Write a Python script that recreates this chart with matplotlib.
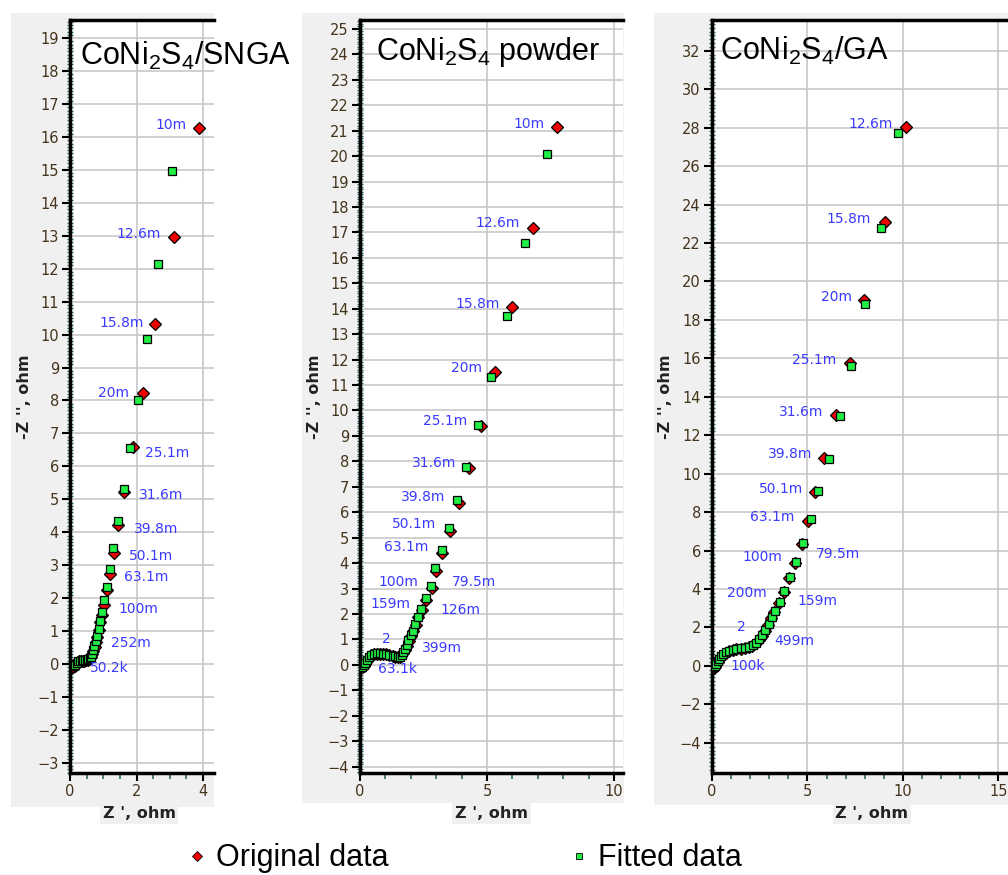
import matplotlib
matplotlib.use("Agg")
import matplotlib.pyplot as plt
from matplotlib.patches import Rectangle
from matplotlib.ticker import MultipleLocator
from matplotlib.lines import Line2D

plt.rcParams['font.family'] = ['DejaVu Sans']
plt.rcParams['mathtext.default'] = 'regular'

# ---- data (Z' , -Z'' in ohm) ----
# CoNi2S4/SNGA
orig1_x = [0.03, 0.06, 0.10, 0.14, 0.18, 0.23, 0.28, 0.33, 0.38, 0.43,
           0.48, 0.53, 0.58, 0.62, 0.66, 0.70, 0.74, 0.78, 0.82, 0.86,
           0.90, 0.95, 1.01, 1.10, 1.20, 1.32, 1.45, 1.63, 1.88, 2.21,
           2.57, 3.13, 3.89]
orig1_y = [-0.03, -0.08, -0.10, -0.06, 0.02, 0.07, 0.09, 0.10, 0.10, 0.10,
           0.11, 0.13, 0.16, 0.20, 0.29, 0.40, 0.52, 0.66, 0.82, 1.02,
           1.26, 1.50, 1.80, 2.24, 2.74, 3.38, 4.22, 5.23, 6.60, 8.23,
           10.32, 12.97, 16.27]
fit1_x = [0.03, 0.07, 0.11, 0.15, 0.20, 0.25, 0.30, 0.35, 0.40, 0.45,
          0.50, 0.55, 0.59, 0.62, 0.66, 0.70, 0.73, 0.77, 0.82, 0.86,
          0.91, 0.96, 1.01, 1.10, 1.19, 1.30, 1.43, 1.62, 1.81, 2.03,
          2.32, 2.66, 3.07]
fit1_y = [-0.02, -0.06, -0.07, -0.03, 0.04, 0.08, 0.10, 0.11, 0.11, 0.12,
          0.13, 0.15, 0.18, 0.21, 0.31, 0.43, 0.55, 0.70, 0.86, 1.06,
          1.30, 1.59, 1.93, 2.35, 2.87, 3.53, 4.34, 5.31, 6.55, 8.02,
          9.86, 12.13, 14.96]
lab1_text = ["10m", "12.6m", "15.8m", "20m", "25.1m", "31.6m", "39.8m",
             "50.1m", "63.1m", "100m", "252m", "50.2k"]
lab1_x = [2.56, 1.41, 0.90, 0.85, 2.26, 2.06, 1.91, 1.76, 1.61, 1.46, 1.23, 0.60]
lab1_y = [16.36, 13.05, 10.36, 8.23, 6.39, 5.13, 4.10, 3.28, 2.63, 1.67, 0.65, -0.13]

# CoNi2S4 powder
orig2_x = [0.03, 0.08, 0.14, 0.20, 0.27, 0.35, 0.44, 0.54, 0.65, 0.77,
           0.90, 1.03, 1.16, 1.28, 1.39, 1.48, 1.56, 1.63, 1.69, 1.76,
           1.83, 1.91, 2.00, 2.10, 2.19, 2.30, 2.43, 2.61, 2.82, 2.98,
           3.24, 3.54, 3.91, 4.30, 4.76, 5.33, 6.00, 6.80, 7.77]
orig2_y = [-0.05, -0.10, -0.05, 0.05, 0.17, 0.28, 0.37, 0.42, 0.44, 0.44,
           0.43, 0.41, 0.38, 0.35, 0.32, 0.30, 0.30, 0.36, 0.45, 0.58,
           0.76, 0.95, 1.15, 1.34, 1.58, 1.87, 2.15, 2.56, 3.04, 3.69,
           4.40, 5.28, 6.38, 7.74, 9.41, 11.50, 14.07, 17.18, 21.15]
fit2_x = [0.03, 0.08, 0.14, 0.20, 0.27, 0.35, 0.44, 0.54, 0.65, 0.77,
          0.90, 1.03, 1.16, 1.28, 1.39, 1.48, 1.57, 1.64, 1.70, 1.76,
          1.83, 1.90, 1.99, 2.09, 2.17, 2.28, 2.41, 2.59, 2.78, 2.95,
          3.22, 3.52, 3.81, 4.17, 4.63, 5.16, 5.77, 6.51, 7.36]
fit2_y = [-0.03, -0.07, -0.02, 0.08, 0.19, 0.30, 0.38, 0.43, 0.45, 0.45,
          0.44, 0.42, 0.39, 0.36, 0.33, 0.31, 0.32, 0.40, 0.49, 0.61,
          0.78, 0.96, 1.16, 1.35, 1.60, 1.89, 2.19, 2.62, 3.12, 3.79,
          4.53, 5.38, 6.48, 7.77, 9.44, 11.33, 13.73, 16.59, 20.09]
lab2_text = ["10m", "12.6m", "15.8m", "20m", "25.1m", "31.6m", "39.8m", "50.1m",
             "63.1m", "100m", "79.5m", "159m", "126m", "2", "399m", "63.1k"]
lab2_x = [6.04, 4.53, 3.74, 3.58, 2.47, 2.03, 1.61, 1.25, 0.96, 0.72, 3.61,
          0.42, 3.18, 0.85, 2.43, 0.72]
lab2_y = [21.28, 17.37, 14.17, 11.68, 9.58, 7.94, 6.59, 5.54, 4.62, 3.27, 3.27,
          2.41, 2.17, 1.01, 0.68, -0.15]

# CoNi2S4/GA
orig3_x = [0.03, 0.08, 0.14, 0.21, 0.29, 0.38, 0.48, 0.60, 0.74, 0.90,
           1.08, 1.28, 1.50, 1.72, 1.93, 2.12, 2.29, 2.45, 2.60, 2.75,
           2.92, 3.10, 3.24, 3.50, 3.75, 4.05, 4.35, 4.70, 5.01, 5.38,
           5.88, 6.49, 7.21, 7.96, 9.04, 10.16]
orig3_y = [-0.08, -0.12, -0.05, 0.08, 0.22, 0.35, 0.47, 0.58, 0.68, 0.76,
           0.82, 0.86, 0.89, 0.92, 0.97, 1.05, 1.17, 1.36, 1.58, 1.83,
           2.14, 2.48, 2.79, 3.27, 3.82, 4.58, 5.35, 6.32, 7.52, 9.05,
           10.82, 13.04, 15.77, 19.06, 23.11, 28.02]
fit3_x = [0.03, 0.08, 0.14, 0.21, 0.29, 0.38, 0.48, 0.60, 0.74, 0.90,
          1.08, 1.28, 1.50, 1.72, 1.93, 2.17, 2.32, 2.48, 2.64, 2.79,
          2.97, 3.14, 3.28, 3.54, 3.79, 4.10, 4.40, 4.75, 5.17, 5.57,
          6.13, 6.70, 7.28, 8.03, 8.83, 9.72]
fit3_y = [-0.05, -0.08, -0.01, 0.12, 0.26, 0.38, 0.50, 0.61, 0.70, 0.78,
          0.84, 0.88, 0.91, 0.95, 1.01, 1.09, 1.21, 1.41, 1.63, 1.88,
          2.20, 2.54, 2.85, 3.33, 3.89, 4.64, 5.42, 6.39, 7.64, 9.08,
          10.78, 12.98, 15.59, 18.85, 22.80, 27.74]
lab3_text = ["12.6m", "15.8m", "20m", "25.1m", "31.6m", "39.8m", "50.1m", "63.1m",
             "100m", "79.5m", "200m", "159m", "2", "499m", "100k"]
lab3_x = [7.14, 6.00, 5.71, 4.17, 3.52, 2.95, 2.46, 1.99, 1.61, 5.43, 0.80,
          4.47, 1.33, 3.26, 0.98]
lab3_y = [28.18, 23.26, 19.20, 15.89, 13.19, 11.03, 9.22, 7.74, 5.69, 5.82,
          3.79, 3.39, 2.02, 1.30, 0.00]

titles = ["CoNi$_2$S$_4$/SNGA", "CoNi$_2$S$_4$ powder", "CoNi$_2$S$_4$/GA"]

# ---- layout ----
W, H = 1008, 875
fig = plt.figure(figsize=(W / 100, H / 100), dpi=100)

def fx(px):
    return px / W

def fy(py):
    return 1 - py / H

# grey panels behind each plot (x0, y0, x1, y1 in pixels)
grey = [(11, 13, 214, 807), (302, 13, 624, 803), (654, 13, 1008, 805)]
for x0, y0, x1, y1 in grey:
    fig.patches.append(Rectangle((fx(x0), fy(y1)), fx(x1 - x0), (y1 - y0) / H,
                                 transform=fig.transFigure, facecolor='#f0f0f0',
                                 edgecolor='none', zorder=-10))

ax_px = [(70, 214), (360, 623), (712, 1008)]
top_px, bot_px = 20, 773
xlims = [(0, 4.33), (0, 10.35), (0, 15.5)]
ylims = [(-3.31, 19.55), (-4.25, 25.35), (-5.57, 33.6)]
xmaj = [2, 5, 5]
xmin = [0.5, 1, 1]
ymaj = [1, 1, 2]
ymin = [0.1, 0.1, 0.2]
ylab_x = [-0.264, -0.144, -0.132]
xlab_x = [0.48, 0.5, 0.54]
title_pos = [(0.069, 0.940), (0.061, 0.947), (0.027, 0.947)]

data = [(orig1_x, orig1_y, fit1_x, fit1_y, lab1_text, lab1_x, lab1_y),
        (orig2_x, orig2_y, fit2_x, fit2_y, lab2_text, lab2_x, lab2_y),
        (orig3_x, orig3_y, fit3_x, fit3_y, lab3_text, lab3_x, lab3_y)]

tick_col = '#45341c'
minor_col = '#2e6a6a'
red = '#ee0000'
green = '#22ee44'
blue = '#3a3aff'

for i, (l, r) in enumerate(ax_px):
    ax = fig.add_axes([fx(l), fy(bot_px), fx(r - l), (bot_px - top_px) / H])
    ax.set_facecolor('white')
    ox, oy, gx, gy, lt, lx, ly = data[i]

    ax.plot(ox, oy, 'D', ms=6, mfc=red, mec='black', mew=0.9, zorder=3)
    ax.plot(gx, gy, 's', ms=5.5, mfc=green, mec='black', mew=0.9, zorder=4)
    for s, x, y in zip(lt, lx, ly):
        ax.text(x, y, s, color=blue, fontsize=10, ha='left', va='center', zorder=5)

    ax.set_xlim(*xlims[i])
    ax.set_ylim(*ylims[i])
    ax.xaxis.set_major_locator(MultipleLocator(xmaj[i]))
    ax.xaxis.set_minor_locator(MultipleLocator(xmin[i]))
    ax.yaxis.set_major_locator(MultipleLocator(ymaj[i]))
    ax.yaxis.set_minor_locator(MultipleLocator(ymin[i]))

    ax.grid(True, which='major', color='#c8c8c8', lw=1.2)
    ax.set_axisbelow(True)

    for side in ['top', 'left', 'bottom']:
        ax.spines[side].set_linewidth(2.5)
        ax.spines[side].set_color('black')
    ax.spines['right'].set_visible(False)

    ax.tick_params(which='major', direction='out', length=6, width=1.5,
                   color='black', labelsize=10.5, labelcolor=tick_col, pad=2)
    ax.tick_params(axis='y', which='minor', direction='inout', length=5,
                   width=1, color=minor_col)
    ax.tick_params(axis='x', which='minor', direction='out', length=4,
                   width=1.2, color=minor_col)

    ax.set_xlabel("Z ', ohm", fontsize=11.5, fontweight='bold', color='#222222',
                  bbox=dict(facecolor='#f0f0f0', edgecolor='none', pad=2))
    ax.xaxis.set_label_coords(xlab_x[i], -0.044)
    ax.set_ylabel("-Z '', ohm", fontsize=11.5, fontweight='bold', color='#222222')
    ax.yaxis.set_label_coords(ylab_x[i], 0.5)

    tx, ty = title_pos[i]
    ax.text(tx, ty, titles[i], transform=ax.transAxes, fontsize=22,
            family='Liberation Sans', ha='left', va='baseline', zorder=6,
            clip_on=False)

handles = [Line2D([], [], ls='none', marker='D', ms=5, mfc=red, mec='black', mew=0.6),
           Line2D([], [], ls='none', marker='s', ms=5, mfc=green, mec='black', mew=0.6)]
fig.legend(handles, ["Original data", "Fitted data"], loc='center',
           bbox_to_anchor=(0.462, 0.019), ncol=2, frameon=False,
           prop={'family': 'Liberation Sans', 'size': 22},
           handlelength=0.5, handletextpad=0.35, columnspacing=6.0)

fig.savefig("out.png", dpi=100)
